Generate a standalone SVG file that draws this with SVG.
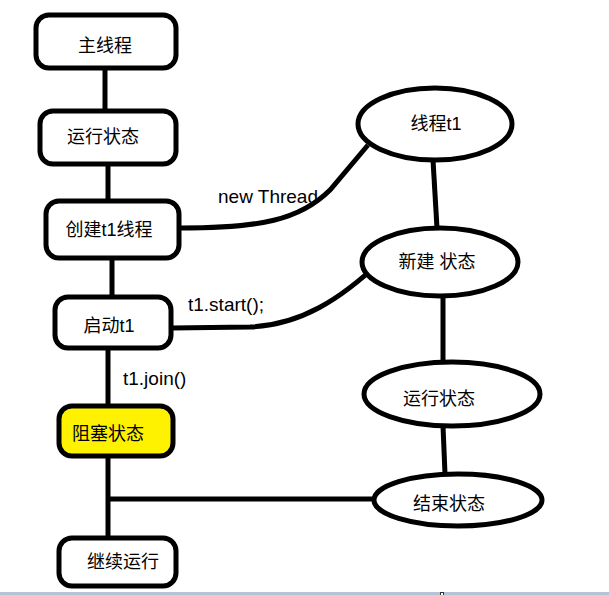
<svg xmlns="http://www.w3.org/2000/svg" width="609" height="595" viewBox="0 0 609 595">
<style>
.n{fill:#fff;stroke:#000;stroke-width:5}
.y{fill:#fff200;stroke:#000;stroke-width:5}
.c{fill:none;stroke:#000;stroke-width:5}
text{font-family:"Liberation Sans","Noto Sans CJK SC",sans-serif;font-size:18px;fill:#000}
.l{font-size:19px}
.m{text-anchor:middle}
</style>
<rect width="609" height="595" fill="#fff"/>
<g id="connectors">
<line class="c" x1="105" y1="68" x2="105" y2="111"/>
<line class="c" x1="108" y1="164" x2="108" y2="201"/>
<line class="c" x1="112" y1="258" x2="112" y2="297"/>
<line class="c" x1="108" y1="348" x2="108" y2="406"/>
<line class="c" x1="108" y1="456" x2="108" y2="538"/>
<line class="c" x1="110" y1="499" x2="376" y2="499"/>
<path class="c" d="M180,228 C260,228 300,220 330,190 L368,145"/>
<path class="c" d="M172,328 L250,327 C300,325 340,300 382,260"/>
<line class="c" x1="433" y1="160" x2="437" y2="228"/>
<line class="c" x1="443" y1="296" x2="443" y2="362"/>
<line class="c" x1="443" y1="426" x2="445" y2="474"/>
<text class="l" x="218" y="203">new Thread</text>
<text class="l" x="188" y="311">t1.start();</text>
<text class="l" x="123" y="385">t1.join()</text>
</g>
<g id="main"><rect class="n" x="36" y="15" width="140" height="53" rx="13"/><text class="m" x="105" y="52">主线程</text></g>
<g id="run1"><rect class="n" x="40" y="111" width="136" height="53" rx="13"/><text class="m" x="103" y="143">运行状态</text></g>
<g id="create"><rect class="n" x="46" y="201" width="133" height="57" rx="13"/><text class="m" x="109" y="236">创建t1线程</text></g>
<g id="start"><rect class="n" x="55" y="297" width="116" height="51" rx="13"/><text class="m" x="109" y="332">启动t1</text></g>
<g id="blocked"><rect class="y" x="59" y="406" width="114" height="50" rx="13"/><text class="m" x="108" y="440">阻塞状态</text></g>
<g id="continue"><rect class="n" x="59" y="538" width="117" height="48" rx="13"/><text class="m" x="123" y="568">继续运行</text></g>
<g id="t1"><ellipse class="n" cx="435" cy="124" rx="77" ry="36"/><text class="m" x="436" y="130">线程t1</text></g>
<g id="new"><ellipse class="n" cx="440" cy="262" rx="78" ry="34"/><text class="m" x="437" y="268">新建 状态</text></g>
<g id="run2"><ellipse class="n" cx="452" cy="394" rx="88" ry="32"/><text class="m" x="439" y="405">运行状态</text></g>
<g id="end"><ellipse class="n" cx="458" cy="500" rx="84" ry="26"/><text class="m" x="449" y="510">结束状态</text></g>
<rect x="0" y="592" width="609" height="3" fill="#b4c3d6"/>
<rect x="440.5" y="592.5" width="3" height="3" fill="#fff" stroke="#333" stroke-width="1"/>
</svg>
